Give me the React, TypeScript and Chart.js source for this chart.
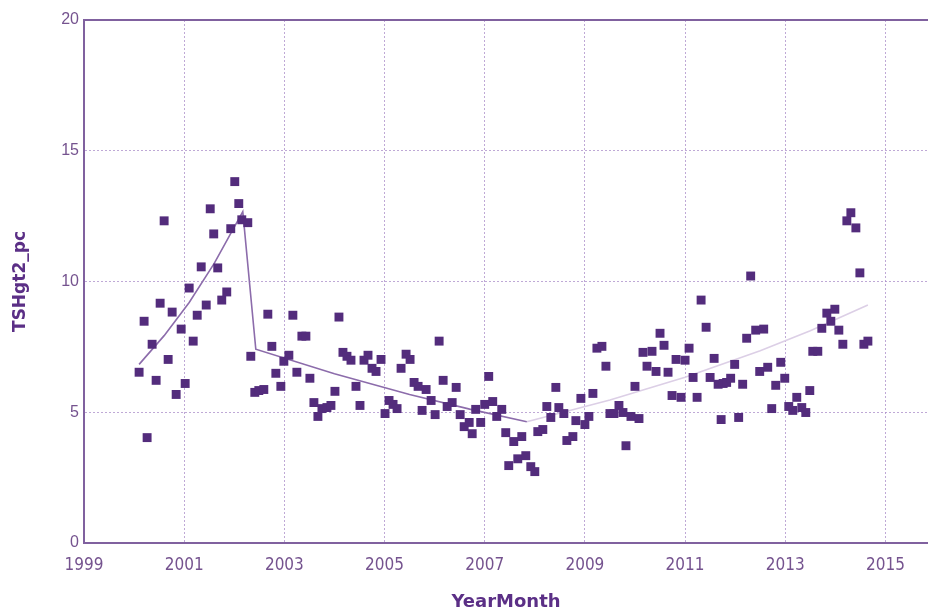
import React, { useEffect, useRef } from 'react';
import { Chart, registerables } from 'chart.js';

Chart.register(...registerables);

const scatterYears = [
  2000.10, 2000.20, 2000.26, 2000.36, 2000.44, 2000.52, 2000.60, 2000.68, 2000.76, 2000.84, 2000.94,
  2001.02, 2001.10, 2001.18, 2001.26, 2001.34, 2001.44, 2001.52, 2001.59, 2001.67, 2001.75, 2001.85, 2001.93,
  2002.01, 2002.09, 2002.15, 2002.27, 2002.33, 2002.41, 2002.49, 2002.59, 2002.67, 2002.75, 2002.83, 2002.93, 2002.99,
  2003.09, 2003.17, 2003.25, 2003.35, 2003.43, 2003.51, 2003.59, 2003.67, 2003.75, 2003.85, 2003.93,
  2004.01, 2004.09, 2004.17, 2004.25, 2004.33, 2004.43, 2004.51, 2004.59, 2004.67, 2004.75, 2004.83, 2004.93,
  2005.01, 2005.09, 2005.17, 2005.25, 2005.33, 2005.43, 2005.51, 2005.59, 2005.67, 2005.75, 2005.83, 2005.93,
  2006.01, 2006.09, 2006.17, 2006.25, 2006.35, 2006.43, 2006.51, 2006.59, 2006.69, 2006.75, 2006.82, 2006.92,
  2007.00, 2007.08, 2007.16, 2007.24, 2007.34, 2007.42, 2007.48, 2007.58, 2007.66, 2007.74, 2007.82, 2007.92,
  2008.00, 2008.06, 2008.16, 2008.24, 2008.32, 2008.42, 2008.48, 2008.58, 2008.64, 2008.76, 2008.82, 2008.92,
  2009.00, 2009.08, 2009.16, 2009.24, 2009.34, 2009.42, 2009.50, 2009.58, 2009.68, 2009.76, 2009.82, 2009.92,
  2010.00, 2010.08, 2010.16, 2010.24, 2010.34, 2010.42, 2010.50, 2010.58, 2010.66, 2010.74, 2010.82, 2010.92,
  2011.00, 2011.08, 2011.16, 2011.24, 2011.32, 2011.42, 2011.50, 2011.58, 2011.66, 2011.72, 2011.76, 2011.83, 2011.91,
  2011.99, 2012.07, 2012.15, 2012.23, 2012.31, 2012.41, 2012.49, 2012.57, 2012.65, 2012.73, 2012.81, 2012.91,
  2012.99, 2013.07, 2013.15, 2013.23, 2013.33, 2013.41, 2013.49, 2013.55, 2013.65, 2013.73, 2013.83, 2013.91,
  2013.99, 2014.07, 2014.15, 2014.23, 2014.31, 2014.41, 2014.49, 2014.57, 2014.65,
];

const scatterValues = [
  6.53, 8.48, 4.03, 7.60, 6.22, 9.17, 12.32, 7.02, 8.83, 5.68, 8.18,
  6.10, 9.75, 7.72, 8.71, 10.56, 9.10, 12.78, 11.82, 10.52, 9.29, 9.60, 12.02,
  13.82, 12.98, 12.36, 12.25, 7.14, 5.76, 5.83, 5.87, 8.75, 7.52, 6.49, 5.99, 6.95,
  7.18, 8.71, 6.53, 7.91, 7.91, 6.30, 5.37, 4.84, 5.14, 5.18, 5.26,
  5.80, 8.64, 7.29, 7.14, 6.99, 5.99, 5.26, 6.99, 7.18, 6.68, 6.56, 7.02,
  4.95, 5.45, 5.30, 5.14, 6.68, 7.22, 7.02, 6.14, 5.99, 5.07, 5.87, 5.45,
  4.91, 7.72, 6.22, 5.22, 5.37, 5.95, 4.91, 4.45, 4.61, 4.18, 5.11, 4.61,
  5.30, 6.37, 5.41, 4.84, 5.11, 4.22, 2.96, 3.88, 3.22, 4.07, 3.34, 2.92,
  2.73, 4.26, 4.34, 5.22, 4.80, 5.95, 5.18, 4.95, 3.92, 4.07, 4.68, 5.53,
  4.53, 4.84, 5.72, 7.45, 7.52, 6.76, 4.95, 4.95, 5.26, 4.99, 3.72, 4.84,
  5.99, 4.76, 7.29, 6.76, 7.33, 6.56, 8.02, 7.56, 6.53, 5.64, 7.02, 5.57,
  6.99, 7.45, 6.33, 5.57, 9.29, 8.25, 6.33, 7.06, 6.07, 4.72, 6.10, 6.14, 6.30,
  6.83, 4.80, 6.07, 7.83, 10.21, 8.14, 6.56, 8.18, 6.72, 5.14, 6.03, 6.91,
  6.30, 5.22, 5.07, 5.57, 5.18, 4.99, 5.83, 7.33, 7.33, 8.21, 8.79, 8.48,
  8.94, 8.14, 7.60, 12.32, 12.63, 12.05, 10.33, 7.60, 7.72,
];

const trendDarkYears = [2000.10, 2000.60, 2001.10, 2001.60, 2002.17, 2002.43, 2004.00, 2005.50, 2006.70, 2007.84];
const trendDarkValues = [6.83, 7.93, 9.20, 10.69, 12.67, 7.41, 6.47, 5.68, 5.12, 4.64];
const trendLightYears = [2007.84, 2009.50, 2011.00, 2012.50, 2013.50, 2014.65];
const trendLightValues = [4.64, 5.47, 6.34, 7.35, 8.12, 9.10];

const xTickValues = [1999, 2001, 2003, 2005, 2007, 2009, 2011, 2013, 2015];
const yTickValues = [0, 5, 10, 15, 20];

const AXIS_COLOR = '#80619f';
const GRID_COLOR = 'rgba(170,140,200,0.75)';
const TICK_COLOR = '#75538f';
const TITLE_COLOR = '#5b2f86';
const POINT_COLOR = '#532c7c';

export default function App() {
  const canvasRef = useRef<HTMLCanvasElement | null>(null);

  useEffect(() => {
    if (!canvasRef.current) return;
    const scatterData = scatterYears.map((x, i) => ({ x, y: scatterValues[i] }));
    const darkData = trendDarkYears.map((x, i) => ({ x, y: trendDarkValues[i] }));
    const lightData = trendLightYears.map((x, i) => ({ x, y: trendLightValues[i] }));

    const chart = new Chart(canvasRef.current, {
      type: 'scatter',
      data: {
        datasets: [
          {
            type: 'scatter',
            data: scatterData,
            pointStyle: 'rect',
            pointRadius: 6.3,
            backgroundColor: POINT_COLOR,
            borderColor: POINT_COLOR,
            borderWidth: 0,
            order: 0,
          },
          {
            type: 'line',
            data: darkData,
            borderColor: '#8c6cab',
            borderWidth: 1.6,
            pointRadius: 0,
            fill: false,
            tension: 0,
            order: 1,
          },
          {
            type: 'line',
            data: lightData,
            borderColor: '#dccfe6',
            borderWidth: 1.6,
            pointRadius: 0,
            fill: false,
            tension: 0,
            order: 1,
          },
        ] as any,
      },
      options: {
        animation: false,
        responsive: false,
        maintainAspectRatio: false,
        layout: { autoPadding: false, padding: { top: 20, left: 0, right: 0, bottom: 0 } },
        plugins: { legend: { display: false }, tooltip: { enabled: false } },
        scales: {
          x: {
            type: 'linear',
            min: 1999,
            max: 2015.85,
            afterBuildTicks: (s: any) => {
              s.ticks = xTickValues.map((v) => ({ value: v }));
            },
            afterFit: (s: any) => {
              s.height = 70;
            },
            grid: { color: GRID_COLOR, lineWidth: 1, drawTicks: false },
            border: { color: AXIS_COLOR, width: 2, dash: [2, 2] },
            ticks: {
              color: TICK_COLOR,
              padding: 12,
              maxRotation: 0,
              autoSkip: false,
              font: { family: "'Liberation Sans Narrow', 'DejaVu Sans Condensed', 'Liberation Sans', sans-serif", size: 17 },
              callback: (v: any) => String(v),
            },
            title: {
              display: true,
              text: 'YearMonth',
              color: TITLE_COLOR,
              font: { family: "'DejaVu Sans', sans-serif", weight: 'bold', size: 18 },
              padding: { top: 1, bottom: 0 },
            },
          },
          y: {
            type: 'linear',
            min: 0,
            max: 20,
            afterBuildTicks: (s: any) => {
              s.ticks = yTickValues.map((v) => ({ value: v }));
            },
            afterFit: (s: any) => {
              s.width = 84;
            },
            grid: {
              color: (ctx: any) => (ctx.tick && ctx.tick.value === 20 ? AXIS_COLOR : GRID_COLOR),
              lineWidth: (ctx: any) => (ctx.tick && ctx.tick.value === 20 ? 2 : 1),
              drawTicks: false,
            },
            border: {
              color: AXIS_COLOR,
              width: 2,
              dash: (ctx: any) => (ctx.tick && ctx.tick.value === 20 ? [] : [2, 2]),
            },
            ticks: {
              color: TICK_COLOR,
              padding: 5,
              font: { family: "'Liberation Sans', Arial, sans-serif", size: 16 },
              callback: (v: any) => String(v),
            },
            title: {
              display: true,
              text: 'TSHgt2_pc',
              color: TITLE_COLOR,
              font: { family: "'DejaVu Sans', sans-serif", weight: 'bold', size: 17 },
              padding: { top: 10, bottom: 0 },
            },
          },
        },
      } as any,
    });
    return () => chart.destroy();
  }, []);

  return (
    <div style={{ position: 'absolute', left: 0, top: 0, width: 928, height: 613, background: '#fff' }}>
      <canvas ref={canvasRef} width={928} height={613} />
    </div>
  );
}
